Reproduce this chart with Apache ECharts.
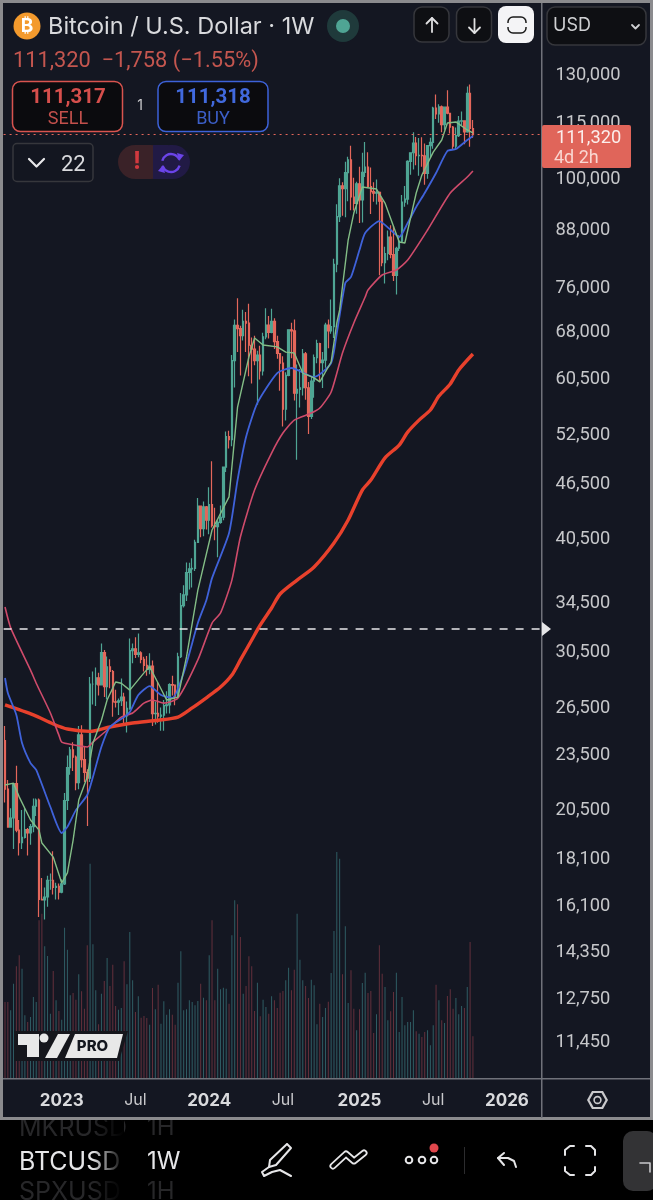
<!DOCTYPE html>
<html lang="en">
<head>
<meta charset="UTF-8">
<title>BTCUSD 1W</title>
<script src="https://cdn.jsdelivr.net/npm/echarts@6/dist/echarts.min.js"></script>
<style>
html,body{margin:0;padding:0;background:#000}
#main{width:653px;height:1200px}
</style>
</head>
<body>
<div id="main"></div>
<script>
// weekly candles, first bar is the week of 2022-08-15
const opens = [24300,21500,19550,20000,21800,19400,18800,19050,19430,19260,19570,20600,20920,16300,16280,16400,17100,17100,16800,16840,
16600,16950,20900,22700,23730,23300,21860,24640,23160,22430,22100,27990,27990,28450,27950,30300,27820,29230,28900,26780,
26750,26850,27100,25850,26340,30460,30600,30170,30280,29790,29350,29050,29300,26000,26010,25830,25900,26530,26580,27970,
27930,27160,29990,34100,35030,37060,37400,37450,39970,43800,41380,43700,42270,43950,41700,41580,42030,42580,48300,52140,
51730,63100,68950,68400,67200,69640,69350,65600,64950,63100,64000,61500,67000,69000,67750,69650,66200,64250,62700,55850,
60800,68200,68000,58150,58700,58950,64200,58950,54850,59950,63600,65850,62800,63200,69000,68000,68750,80400,90600,97900,
97200,101200,104500,95200,93700,98400,94500,101300,102600,97700,96500,96100,96300,94200,80700,82600,86100,82400,78200,83700,
85200,94000,94700,104100,106400,109000,105600,105700,105600,101000,108300,109200,119000,117300,119400,114200,119300,117500,113500,108200,
111100,115200,115300,112100,123500,113078];
const highs = [25200,22000,20500,21800,22800,19900,20400,20500,19500,19700,21000,21000,21000,17200,16800,17300,17400,18400,17000,16970,
17150,21300,23400,23900,24200,23400,25200,25250,23900,22600,28500,28900,29200,28800,31000,30500,30000,29800,29000,27600,
27000,28400,27400,26800,31400,31000,31500,31800,30400,29990,30050,30250,29700,26800,28150,26400,26900,27500,28050,28600,
27950,30300,35200,35900,38000,37980,38400,40250,44700,43800,44300,43800,45900,49000,43600,42250,43850,48200,52800,52900,
64000,70000,73800,68900,71700,71300,72800,66900,67200,64700,65500,67700,72000,70600,71900,70200,67200,63400,63800,61300,
68300,69400,70000,62500,61800,65000,64500,59800,60600,64100,66500,66000,64500,69400,70000,73600,81500,93500,99800,98800,
104000,105300,108300,99900,98900,102700,106400,109300,106500,102500,98800,99500,96500,95000,84000,87500,88700,88500,84000,86500,
95700,97900,104400,105800,112000,110700,110400,110600,108900,108500,110500,119400,123200,120200,119800,119300,124500,117600,113800,113400,
116700,118000,115300,125700,126300,115500];
const lows = [20800,19550,19550,18500,19300,18200,18500,19000,18200,18700,19300,20100,15600,16280,15500,16000,16700,16500,16300,16300,
16550,16900,20400,22300,22500,21450,21500,22700,21900,19600,21900,26600,26500,27200,27900,27100,26950,27700,25800,26400,
25900,26500,25350,24800,26250,29500,29900,29950,29500,28900,28600,28700,25200,25300,25400,24900,24900,26000,26000,27200,
26550,27100,29900,33950,34500,35500,35700,37200,39900,40500,40600,41300,40800,41500,40200,38500,41900,42250,47700,50600,
50900,59000,64500,60800,66400,64500,60700,59600,62400,56500,60200,60800,66600,66700,67600,65000,63400,58500,53500,54300,
60700,63500,57100,49200,56100,57800,57200,52500,54500,57500,62700,59900,58900,62000,65100,67500,66800,78800,89400,90800,
90500,94200,92100,92000,91300,89200,89300,100100,97800,91200,94100,93400,78200,80000,76600,81200,81600,77100,74500,83100,
85000,92900,93400,100700,102000,103100,100400,102700,98200,99700,105100,107500,115800,114700,112000,112700,117200,111700,107300,107300,
110700,114000,108700,111900,108000,110500];
const closes = [21500,19550,19990,21800,19400,18800,19050,19430,19260,19570,20600,20920,16300,16280,16400,17100,17100,16800,16840,16600,
16950,20900,22700,23730,23300,21860,24640,23160,22430,22100,27990,27990,28450,27950,30300,27820,29230,28900,26780,26750,
26850,27100,25850,26340,30460,30600,30170,30280,29790,29350,29050,29300,26000,26010,25830,25900,26530,26580,27970,27930,
27160,29990,34100,35030,37060,37400,37450,39970,43800,41380,43700,42270,43950,41700,41580,42030,42580,48300,52140,51730,
63100,68950,68400,67200,69640,69350,65600,64950,63100,64000,61500,67000,69000,67750,69650,66200,64250,62700,55850,60800,
68200,68000,58150,58700,58950,64200,58950,54850,59950,63600,65850,62800,63200,69000,68000,68750,80400,90600,97900,97200,
101200,104500,95200,93700,98400,94500,101300,102600,97700,96500,96100,96300,94200,80700,82600,86100,82400,78200,83700,85200,
94000,94700,104100,106400,109000,105600,105700,105600,101000,108300,109200,119000,117300,119400,114200,119300,117500,113500,108200,111100,
115200,115300,112100,123500,113078,111320];
// volume, in units of a third of a pixel of bar height
const volumes = [228,228,203,283,335,368,328,188,168,183,243,228,473,493,395,366,193,321,233,201,
175,451,385,248,255,235,311,260,208,398,643,401,263,161,253,291,360,276,340,216,
205,210,350,281,438,293,198,245,181,186,180,160,270,206,280,163,230,190,206,190,
160,286,380,203,206,233,228,218,231,283,241,233,368,473,233,328,266,271,268,223,
428,533,521,423,253,276,365,335,201,286,185,235,213,193,245,233,210,256,261,293,
331,263,325,493,355,293,276,240,295,278,161,223,183,210,229,315,441,678,658,311,
455,225,323,208,143,206,285,316,255,261,135,191,398,313,273,173,200,258,316,138,
243,158,168,168,203,140,133,123,138,143,98,158,280,233,173,165,246,266,208,240,
191,216,210,273,408,125];
// moving averages, [week index, price]
const maGreen = [[0,21730],[3,21830],[5,21090],[9,19900],[12,19400],[13,18780],[17,18130],[20,16990],[22,17420],[24,18910],[26,20920],[29,22170],[31,24150],[34,25570],[36,26900],[39,28150],[41,28060],[44,27580],[49,28800],[51,29240],[54,28060],[57,26900],[61,27100],[64,29980],[68,35460],[73,41240],[79,44810],[82,56150],[86,63690],[88,66800],[91,65630],[96,65320],[99,64480],[102,64330],[105,61170],[109,60430],[111,59820],[115,62890],[117,69370],[118,71680],[121,85440],[123,91440],[126,97620],[131,97120],[134,93770],[139,85020],[141,84810],[145,96160],[147,100600],[151,106580],[154,109860],[156,114650],[159,114960],[163,112660],[165,111820]];
const maBlue = [[0,28430],[1,27380],[4,25910],[6,24150],[9,22960],[11,22570],[16,20560],[20,19260],[22,19560],[25,20400],[29,21190],[31,22170],[34,23920],[37,25140],[42,25770],[44,26100],[47,27240],[51,27860],[55,27240],[59,27040],[63,28800],[68,32640],[71,34570],[73,36540],[79,40930],[82,46750],[85,52090],[89,56750],[96,61170],[101,61950],[109,60550],[115,62740],[117,67640],[120,76700],[122,77870],[125,83330],[127,86960],[132,89620],[136,87620],[139,86100],[142,89170],[145,92840],[148,96160],[152,101110],[156,106860],[159,107400],[163,109860],[165,111000]];
const maPink = [[0,33980],[2,32250],[9,29000],[11,28060],[16,26040],[19,24630],[20,24200],[24,24040],[29,23910],[31,24200],[36,24950],[41,25770],[45,26040],[49,26690],[52,26900],[56,26690],[61,27040],[68,29750],[73,32640],[76,33480],[80,36360],[83,40520],[88,45590],[94,50030],[98,52610],[102,54350],[108,55320],[111,56020],[115,58320],[119,64330],[123,69370],[127,74040],[128,75370],[133,78260],[138,79250],[142,81250],[149,87620],[157,96160],[163,100100],[165,101620]];
const maRed = [[0,26570],[10,25910],[17,25330],[22,25010],[30,24860],[37,25140],[45,25390],[54,25570],[61,25770],[66,26370],[71,27050],[76,27790],[80,28640],[83,29750],[87,31280],[90,32480],[94,33900],[97,35110],[103,36360],[109,37580],[116,39910],[121,42290],[126,45590],[129,46750],[134,49430],[139,51050],[142,52740],[146,54350],[150,55750],[153,57730],[157,59510],[160,61650],[165,64170]];

const priceTicks = [130000,115000,100000,88000,76000,68000,60500,52500,46500,40500,34500,30500,26500,23500,20500,18100,16100,14350,12750,11450];
const timeTicks = {'2023-01-02':'2023','2023-07-03':'Jul','2024-01-01':'2024','2024-07-01':'Jul','2025-01-06':'2025','2025-07-07':'Jul','2026-01-05':'2026'};
const lastPrice = 111320;
const alertPrice = 32150;

// weekly categories incl. the empty future weeks on the right
const weeks = [];
for (let i = 0; i < 190; i++) {
    weeks.push(new Date(Date.UTC(2022, 7, 15 + i * 7)).toISOString().slice(0, 10));
}

const bg = '#141722', frame = '#8b8b8e', up = '#4fa594', down = '#e4675b';
const font = 'Inter, "Noto Sans", sans-serif';
const numFont = 'Roboto, "Noto Sans", sans-serif';

function rect(x, y, w, h, fill, r, stroke, z) {
    return {type: 'rect', shape: {x, y, width: w, height: h, r: r || 0},
        style: {fill: fill || null, stroke: stroke || null, lineWidth: stroke ? 1.5 : 0}, z: z || 20, silent: true};
}
function txt(x, y, text, size, color, weight, align, z, family) {
    return {type: 'text', x, y: family ? y + 2 : y, style: {text, fill: color, font: (weight || 400) + ' ' + size + 'px ' + (family || font),
        textAlign: align || 'left', textVerticalAlign: 'middle'}, z: z || 21, silent: true};
}
function pline(points, color, w, z) {
    return {type: 'polyline', shape: {points}, style: {stroke: color, fill: null, lineWidth: w || 2, lineCap: 'round', lineJoin: 'round'}, z: z || 21, silent: true};
}
function circle(cx, cy, r, fill, stroke, w, z) {
    return {type: 'circle', shape: {cx, cy, r}, style: {fill: fill || null, stroke: stroke || null, lineWidth: w || 0}, z: z || 21, silent: true};
}
function poly(points, fill, z) {
    return {type: 'polygon', shape: {points}, style: {fill}, z: z || 22, silent: true};
}

const chrome = [
    // footer and frame
    rect(0, 1118, 653, 82, '#000', 0, null, 10),
    txt(19, 1128, 'MKRUSD', 25, '#272729', 400, 'left', 11),
    txt(147, 1128, '1H', 24, '#272729', 400, 'left', 11),
    txt(19, 1192, 'SPXUSD', 25, '#272729', 400, 'left', 11),
    txt(147, 1192, '1H', 24, '#272729', 400, 'left', 11),
    rect(0, 0, 653, 3, frame, 0, null, 12),
    rect(0, 0, 3, 1120, frame, 0, null, 12),
    rect(650, 0, 3, 1120, frame, 0, null, 12),
    rect(0, 1117, 653, 3, frame, 0, null, 12),
    rect(541, 3, 1.5, 1115, '#70727a', 0, null, 12),
    rect(3, 1078, 647, 1.5, '#70727a', 0, null, 12),

    // header
    circle(27, 26, 13.5, '#f39a2d'),
    txt(27, 26, '₿', 19, '#fff', 700, 'center', 22),
    txt(48, 27, 'Bitcoin / U.S. Dollar · 1W', 23.5, '#d9dadd'),
    circle(343, 26, 16, '#1f3a3b'),
    circle(343, 26, 7, '#4fa594', null, 0, 22),
    rect(414, 7, 35, 35, '#0e0f13', 8, '#36373c'),
    pline([[432, 32], [432, 18]], '#e0e0e2', 1.8),
    pline([[426.5, 23.5], [432, 18], [437.5, 23.5]], '#e0e0e2', 1.8),
    rect(456.5, 7, 35, 35, '#0e0f13', 8, '#36373c'),
    pline([[474.5, 19], [474.5, 33]], '#e0e0e2', 1.8),
    pline([[469, 27.5], [474.5, 33], [480, 27.5]], '#e0e0e2', 1.8),
    rect(498, 6, 36, 37, '#f4f4f6', 8),
    rect(508, 17, 18, 16, null, 5, '#1a1a1a'),
    rect(506, 23, 22, 4, '#f4f4f6', 0, null, 21),
    rect(547, 7, 99, 38, '#0e0f13', 8, '#36373c'),
    txt(553, 26, 'USD', 18, '#cfd0d3'),
    pline([[632, 25], [635.5, 28.5], [639, 25]], '#cfd0d3', 1.8),

    txt(13, 60, '111,320  −1,758 (−1.55%)', 21.8, '#c4564f', 400, 'left', 21, numFont),
    rect(12.5, 81.5, 110, 50, '#0b0b0e', 8, '#d9544f'),
    txt(68, 96, '111,317', 20.5, '#d64f4c', 700, 'center', 21, numFont),
    txt(68, 117, 'SELL', 18, '#c2504c', 400, 'center', 21, numFont),
    txt(140, 106, '1', 14, '#c9c9cc', 400, 'center'),
    rect(158, 81.5, 110, 50, '#0b0b0e', 8, '#3d62d8'),
    txt(213, 96, '111,318', 20.5, '#4169dc', 700, 'center', 21, numFont),
    txt(213, 117, 'BUY', 18, '#3c5fc8', 400, 'center', 21, numFont),
    rect(13, 143.5, 80, 38, '#131620', 4, '#36373c'),
    pline([[29, 159], [36.5, 166.5], [44, 159]], '#e8e8ea', 2.2),
    txt(61, 163, '22', 22, '#d9dadd', 400, 'left', 21, numFont),
    rect(118, 145, 50, 34, '#3a2228', 17),
    rect(153, 145, 37, 34, '#211a45', 17),
    rect(153, 145, 15, 34, '#211a45', 0, null, 20),
    txt(137, 162, '!', 24, '#d2393f', 700, 'center'),
    {type: 'arc', shape: {cx: 171, cy: 163, r: 9, startAngle: 3.4, endAngle: 5.9}, style: {stroke: '#6b44e8', lineWidth: 2.4, fill: null}, z: 21, silent: true},
    {type: 'arc', shape: {cx: 171, cy: 163, r: 9, startAngle: 0.3, endAngle: 2.8}, style: {stroke: '#6b44e8', lineWidth: 2.4, fill: null}, z: 21, silent: true},
    poly([[177, 153], [184, 155], [179, 161]], '#6b44e8'),
    poly([[165, 173], [158, 171], [163, 165]], '#6b44e8'),

    // last price tag
    rect(542, 125, 89, 43, '#e0655a', 2, null, 22),
    txt(556, 136, '111,320', 18.3, '#fbeeec', 400, 'left', 23, numFont),
    txt(554, 156, '4d 2h', 18, '#f9d6d1', 400, 'left', 23, numFont),

    // alert handle on the axis
    poly([[542, 622], [551, 629], [542, 636]], '#e6e6e8', 23),

    // TV PRO logo
    poly([[14, 1031], [128, 1031], [119, 1061], [14, 1061]], '#15161c', 21),
    poly([[18, 1034], [39, 1034], [39, 1057], [27, 1057], [27, 1045], [18, 1045]], '#e8e8e8'),
    circle(44, 1038, 4.5, '#e8e8e8', null, 0, 22),
    poly([[58, 1034], [70, 1034], [57, 1058], [45, 1058]], '#e8e8e8'),
    poly([[75, 1034], [123, 1034], [117, 1058], [65, 1058]], '#e8e8e8'),
    txt(92.5, 1046, 'PRO', 15, '#14171f', 800, 'center', 23),

    // settings hexagon in the corner
    poly([[587, 1100], [592, 1091], [603, 1091], [608, 1100], [603, 1109], [592, 1109]], '#c9c9cc', 20),
    poly([[589.5, 1100], [593.5, 1093], [601.5, 1093], [605.5, 1100], [601.5, 1107], [593.5, 1107]], bg, 21),
    circle(597.5, 1100, 3.4, null, '#c9c9cc', 1.6, 22),

    // footer toolbar
    txt(19, 1162, 'BTCUSD', 25, '#e6e6e8', 400, 'left', 14),
    {type: 'rect', shape: {x: 92, y: 1120, width: 32, height: 80},
        style: {fill: new echarts.graphic.LinearGradient(0, 0, 1, 0, [{offset: 0, color: 'rgba(0,0,0,0)'}, {offset: 1, color: '#000'}])}, z: 15, silent: true},
    txt(147, 1162, '1W', 24, '#e6e6e8', 400, 'left', 14),
    pline([[287, 1144], [291, 1148], [276, 1165], [269, 1167], [270, 1160], [287, 1144]], '#e6e6e8', 2, 14),
    pline([[269, 1167], [262, 1172], [264, 1176], [272, 1172], [280, 1170], [291, 1176]], '#e6e6e8', 2, 14),
    pline([[333, 1166], [346, 1154], [354, 1161], [364, 1153]], '#e6e6e8', 7, 14),
    pline([[333, 1166], [346, 1154], [354, 1161], [364, 1153]], '#000', 3.5, 14),
    circle(409, 1160, 3.3, null, '#e6e6e8', 2, 14),
    circle(422, 1160, 3.3, null, '#e6e6e8', 2, 14),
    circle(434, 1160, 3.3, null, '#e6e6e8', 2, 14),
    circle(434, 1148, 4.5, '#e0474c', null, 0, 14),
    rect(464, 1147, 1, 27, '#2c2c2e', 0, null, 14),
    pline([[516, 1167], [514, 1161], [508, 1158], [498, 1158]], '#e6e6e8', 2, 14),
    pline([[504, 1153], [498, 1158], [504, 1165]], '#e6e6e8', 2, 14),
    pline([[565, 1155], [565, 1150], [570, 1146], [574, 1146]], '#e6e6e8', 2, 14),
    pline([[586, 1146], [591, 1146], [595, 1150], [595, 1155]], '#e6e6e8', 2, 14),
    pline([[595, 1167], [595, 1171], [591, 1175], [586, 1175]], '#e6e6e8', 2, 14),
    pline([[574, 1175], [570, 1175], [565, 1171], [565, 1167]], '#e6e6e8', 2, 14),
    rect(623, 1131, 34, 60, '#333335', 10, null, 14),
    pline([[640, 1163], [650, 1163], [650, 1172]], '#c9c9cc', 1.6, 15)
];

const chart = echarts.init(document.getElementById('main'), null, {renderer: 'canvas'});
chart.setOption({
    backgroundColor: bg,
    animation: false,
    grid: {left: 3.6, top: 3, width: 538.8, height: 1075, containLabel: false},
    xAxis: {
        type: 'category',
        data: weeks,
        boundaryGap: true,
        axisLine: {show: false},
        axisTick: {show: false},
        splitLine: {show: false},
        axisLabel: {
            margin: 14,
            interval: (i, v) => v in timeTicks,
            formatter: v => {
                const t = timeTicks[v];
                return t === 'Jul' ? '{m|Jul}' : '{y|' + t + '}';
            },
            hideOverlap: false,
            rich: {
                y: {fontFamily: font, fontWeight: 700, fontSize: 17, color: '#d9dadd'},
                m: {fontFamily: font, fontWeight: 400, fontSize: 16, color: '#c9c9cc'}
            }
        }
    },
    yAxis: [{
        type: 'log',
        position: 'right',
        min: 10407,
        max: 155000,
        axisLine: {show: false},
        axisTick: {show: false},
        splitLine: {show: false},
        minorTick: {show: false},
        axisLabel: {
            customValues: priceTicks,
            margin: 13,
            color: '#c6c7ca',
            fontFamily: numFont,
            fontSize: 18.3,
            verticalAlign: 'top',
            lineHeight: 4,
            formatter: v => Number(v).toLocaleString('en-US')
        }
    }, {
        type: 'value',
        min: 0,
        max: 3225,
        show: false
    }],
    series: [{
        type: 'bar',
        yAxisIndex: 1,
        barWidth: 1,
        z: 1,
        silent: true,
        data: volumes,
        itemStyle: {color: p => closes[p.dataIndex] >= opens[p.dataIndex] ? '#2f5d64' : '#64303c'}
    }, {
        type: 'candlestick',
        barWidth: 2,
        z: 2,
        silent: true,
        data: opens.map((o, i) => [o, closes[i], lows[i], highs[i]]),
        itemStyle: {color: up, color0: down, borderColor: up, borderColor0: down, borderWidth: 1.2},
        markLine: {
            silent: true,
            symbol: 'none',
            label: {show: false},
            data: [
                {yAxis: lastPrice, lineStyle: {color: down, type: [2, 4], width: 1.2}},
                {yAxis: alertPrice, lineStyle: {color: '#e8e8ea', type: [8, 8], width: 1.6}}
            ]
        }
    }, {
        type: 'line', data: maRed, z: 3, symbol: 'none', silent: true, smooth: 0.25,
        lineStyle: {color: '#e8412c', width: 3.4}
    }, {
        type: 'line', data: maPink, z: 4, symbol: 'none', silent: true, smooth: 0.2,
        lineStyle: {color: '#cf4b6b', width: 1.6}
    }, {
        type: 'line', data: maBlue, z: 4, symbol: 'none', silent: true, smooth: 0.2,
        lineStyle: {color: '#3f62da', width: 1.8}
    }, {
        type: 'line', data: maGreen, z: 4, symbol: 'none', silent: true,
        lineStyle: {color: '#83bd86', width: 1.4}
    }],
    graphic: {elements: chrome}
});
</script>
</body>
</html>
